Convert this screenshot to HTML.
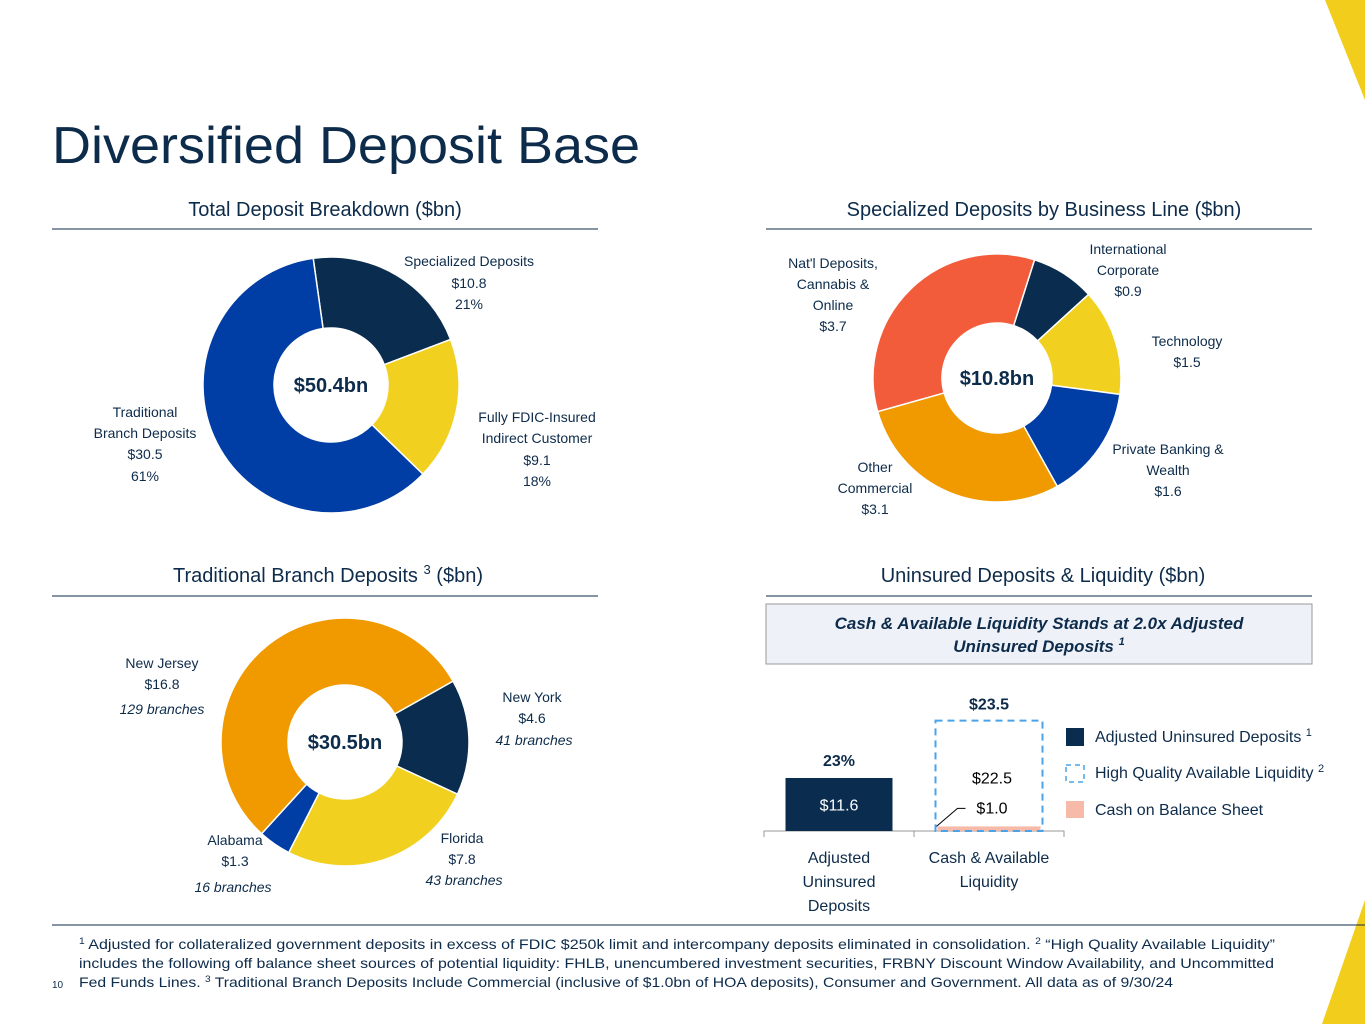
<!DOCTYPE html>
<html><head><meta charset="utf-8"><style>
html,body{margin:0;padding:0;background:#fff;}
svg{display:block;font-family:"Liberation Sans",sans-serif;}
</style></head><body>
<svg id="s" width="1365" height="1024" viewBox="0 0 1365 1024">
<polygon points="1325,0 1365,0 1365,100" fill="#f2cd1c"/>
<polygon points="1365,900 1365,1024 1322,1024" fill="#f2cd1c"/>
<text x="52" y="163" font-size="52" fill="#0d2b4a" textLength="588" lengthAdjust="spacingAndGlyphs">Diversified Deposit Base</text>

<g fill="#0d2b4a" font-size="20" text-anchor="middle">
<text x="325" y="216">Total Deposit Breakdown ($bn)</text>
<text x="1044" y="216">Specialized Deposits by Business Line ($bn)</text>
<text x="328" y="582">Traditional Branch Deposits <tspan font-size="13" dy="-8">3</tspan><tspan dy="8"> ($bn)</tspan></text>
<text x="1043" y="582">Uninsured Deposits &amp; Liquidity ($bn)</text>
</g>
<g stroke="#0d2b4a" stroke-width="1">
<line x1="52" y1="229" x2="598" y2="229"/>
<line x1="766" y1="229" x2="1312" y2="229"/>
<line x1="52" y1="596" x2="598" y2="596"/>
<line x1="766" y1="596" x2="1312" y2="596"/>
<line x1="52" y1="925" x2="1365" y2="925"/>
</g>
<g id="donuts"></g>

<g font-size="14" fill="#0d2b4a" text-anchor="middle">
<g><text x="469" y="266">Specialized Deposits</text><text x="469" y="288">$10.8</text><text x="469" y="309">21%</text></g>
<g><text x="537" y="422">Fully FDIC-Insured</text><text x="537" y="443">Indirect Customer</text><text x="537" y="465">$9.1</text><text x="537" y="486">18%</text></g>
<g><text x="145" y="417">Traditional</text><text x="145" y="438">Branch Deposits</text><text x="145" y="459">$30.5</text><text x="145" y="481">61%</text></g>

<g><text x="833" y="268">Nat'l Deposits,</text><text x="833" y="289">Cannabis &amp;</text><text x="833" y="310">Online</text><text x="833" y="331">$3.7</text></g>
<g><text x="1128" y="254">International</text><text x="1128" y="275">Corporate</text><text x="1128" y="296">$0.9</text></g>
<g><text x="1187" y="346">Technology</text><text x="1187" y="367">$1.5</text></g>
<g><text x="1168" y="454">Private Banking &amp;</text><text x="1168" y="475">Wealth</text><text x="1168" y="496">$1.6</text></g>
<g><text x="875" y="472">Other</text><text x="875" y="493">Commercial</text><text x="875" y="514">$3.1</text></g>

<g><text x="162" y="668">New Jersey</text><text x="162" y="689">$16.8</text><text x="162" y="714" font-style="italic">129 branches</text></g>
<g><text x="532" y="702">New York</text><text x="532" y="723">$4.6</text><text x="534" y="745" font-style="italic">41 branches</text></g>
<g><text x="462" y="843">Florida</text><text x="462" y="864">$7.8</text><text x="464" y="885" font-style="italic">43 branches</text></g>
<g><text x="235" y="845">Alabama</text><text x="235" y="866">$1.3</text><text x="233" y="892" font-style="italic">16 branches</text></g>
</g>

<rect x="766" y="604" width="546" height="60" fill="#eef1f8" stroke="#999"/>
<g font-size="17" font-weight="bold" font-style="italic" fill="#0d2b4a" text-anchor="middle">
<text x="1039" y="629">Cash &amp; Available Liquidity Stands at 2.0x Adjusted</text>
<text x="1039" y="652">Uninsured Deposits <tspan font-size="11" dy="-7">1</tspan></text>
</g>
<g id="bars"></g>

<g font-size="16" fill="#0d2b4a">
<rect x="1066" y="728" width="18" height="18" fill="#0a2d4f"/>
<text x="1095" y="742">Adjusted Uninsured Deposits <tspan font-size="11" dy="-6">1</tspan></text>
<rect x="1066" y="765" width="18" height="17" fill="none" stroke="#4aa3e8" stroke-width="1.5" stroke-dasharray="5,4"/>
<text x="1095" y="778">High Quality Available Liquidity <tspan font-size="11" dy="-6">2</tspan></text>
<rect x="1066" y="801" width="18" height="17" fill="#f7b9a8"/>
<text x="1095" y="815">Cash on Balance Sheet</text>
</g>

<g font-size="14" fill="#0d2b4a">
<text x="79" y="949" textLength="1196" lengthAdjust="spacingAndGlyphs"><tspan font-size="9" dy="-5">1</tspan><tspan dy="5"> Adjusted for collateralized government deposits in excess of FDIC $250k limit and intercompany deposits eliminated in consolidation.  </tspan><tspan font-size="9" dy="-5">2</tspan><tspan dy="5"> “High Quality Available Liquidity”</tspan></text>
<text x="79" y="968" textLength="1195" lengthAdjust="spacingAndGlyphs">includes the following off balance sheet sources of potential liquidity: FHLB, unencumbered investment securities, FRBNY Discount Window Availability, and Uncommitted</text>
<text x="79" y="987" textLength="1094" lengthAdjust="spacingAndGlyphs">Fed Funds Lines.  <tspan font-size="9" dy="-5">3</tspan><tspan dy="5"> Traditional Branch Deposits Include Commercial (inclusive of $1.0bn of HOA deposits), Consumer and Government.  All data as of 9/30/24</tspan></text>
<text x="52" y="988" font-size="10">10</text>
</g>
</svg>
<script>
// chart data
const totalCats=["Specialized Deposits","Fully FDIC-Insured Indirect Customer","Traditional Branch Deposits"];
const totalVals=[10.8,9.1,30.5];
const specCats=["International Corporate","Technology","Private Banking & Wealth","Other Commercial","Nat'l Deposits, Cannabis & Online"];
const specVals=[0.9,1.5,1.6,3.1,3.7];
const branchCats=["New York","Florida","Alabama","New Jersey"];
const branchVals=[4.6,7.8,1.3,16.8];
const barCats=["Adjusted Uninsured Deposits","Cash & Available Liquidity"];
const uninsuredVals=[11.6,0];
const cashVals=[0,1.0];
const hqlaVals=[0,22.5];
const pctLabels=["23%",""];

const NS="http://www.w3.org/2000/svg";
function mk(t,a,p){const e=document.createElementNS(NS,t);for(const k in a)e.setAttribute(k,a[k]);p.appendChild(e);return e;}
function pt(cx,cy,r,deg){const a=(deg-90)*Math.PI/180;return [cx+r*Math.cos(a),cy+r*Math.sin(a)];}
function donut(g,cx,cy,ro,ri,start,vals,cols,name,center){
  const tot=vals.reduce((a,b)=>a+b,0);let a0=start;
  vals.forEach((v,i)=>{const a1=a0+v/tot*360;const lg=(a1-a0)>180?1:0;
    const p1=pt(cx,cy,ro,a0),p2=pt(cx,cy,ro,a1),p3=pt(cx,cy,ri,a1),p4=pt(cx,cy,ri,a0);
    const p=mk('path',{d:`M${p1} A${ro},${ro} 0 ${lg} 1 ${p2} L${p3} A${ri},${ri} 0 ${lg} 0 ${p4}Z`,fill:cols[i],stroke:'#fff','stroke-width':1.5},g);
    
    
    a0=a1;});
  const t=mk('text',{x:cx,y:cy+7,'text-anchor':'middle','font-size':20,'font-weight':'bold',fill:'#0d2b4a'},g);
  t.textContent=center;
  
  
}
const dg=document.getElementById('donuts');
donut(dg,331,385,128,57,-8,totalVals,['#0a2d4f','#f2d01f','#003da5'],'total',"$50.4bn");
donut(dg,997,378,124,55,17.6,specVals,['#0a2d4f','#f2d01f','#003da5','#f09a00','#f25c3b'],'specialized',"$10.8bn");
donut(dg,345,742,124,57,60.6,branchVals,['#0a2d4f','#f2d01f','#003da5','#f09a00'],'branch',"$30.5bn");

// bar chart
const bg=document.getElementById('bars');
const base=831, sc=4.57, cxs=[839,989], bw=107;
const y=v=>base-v*sc;
const ax=mk('path',{d:'M764,837 V831 H1064 V837 M914,831 V837',fill:'none',stroke:'#999'},bg);


barCats.forEach((c,i)=>{
  const x0=cxs[i]-bw/2;
  if(uninsuredVals[i]>0){const r=mk('rect',{x:x0,y:y(uninsuredVals[i]),width:bw,height:uninsuredVals[i]*sc,fill:'#0a2d4f'},bg);
    
    
    const t=mk('text',{x:cxs[i],y:y(uninsuredVals[i]/2)+6,'text-anchor':'middle','font-size':16,fill:'#fff'},bg);t.textContent='$'+uninsuredVals[i].toFixed(1);
    
    
    const p=mk('text',{x:cxs[i],y:y(uninsuredVals[i])-12,'text-anchor':'middle','font-size':16,'font-weight':'bold',fill:'#0d2b4a'},bg);p.textContent=pctLabels[i];
    
    }
  if(cashVals[i]>0){const r=mk('rect',{x:x0+2,y:y(cashVals[i]),width:bw-4,height:cashVals[i]*sc,fill:'#f7b9a8'},bg);
    
    
    const tot=cashVals[i]+hqlaVals[i];
    const d=mk('rect',{x:x0,y:y(tot)-3,width:bw,height:tot*sc+3,fill:'none',stroke:'#4aa3e8','stroke-width':2,'stroke-dasharray':'7,5'},bg);
    
    
    const l=mk('path',{d:`M${x0+1},${y(cashVals[i])} L${x0+22},${y(cashVals[i])-18} H${x0+30}`,fill:'none',stroke:'#000','stroke-width':1},bg);
    
    
    const t1=mk('text',{x:cxs[i]+3,y:y(cashVals[i])-13,'text-anchor':'middle','font-size':16,fill:'#000'},bg);t1.textContent='$'+cashVals[i].toFixed(1);
    
    
    const t2=mk('text',{x:cxs[i]+3,y:y(tot)+60,'text-anchor':'middle','font-size':16,fill:'#000'},bg);t2.textContent='$'+hqlaVals[i].toFixed(1);
    
    
    const t3=mk('text',{x:cxs[i],y:y(tot)-14,'text-anchor':'middle','font-size':16,'font-weight':'bold',fill:'#0d2b4a'},bg);t3.textContent='$'+tot.toFixed(1);
    
    }
});
const catLines=[["Adjusted","Uninsured","Deposits"],["Cash & Available","Liquidity"]];
catLines.forEach((ls,i)=>ls.forEach((s,j)=>{const t=mk('text',{x:cxs[i],y:863+j*24,'text-anchor':'middle','font-size':16,fill:'#0d2b4a'},bg);t.textContent=s;
  
  }));
</script>
</body></html>
